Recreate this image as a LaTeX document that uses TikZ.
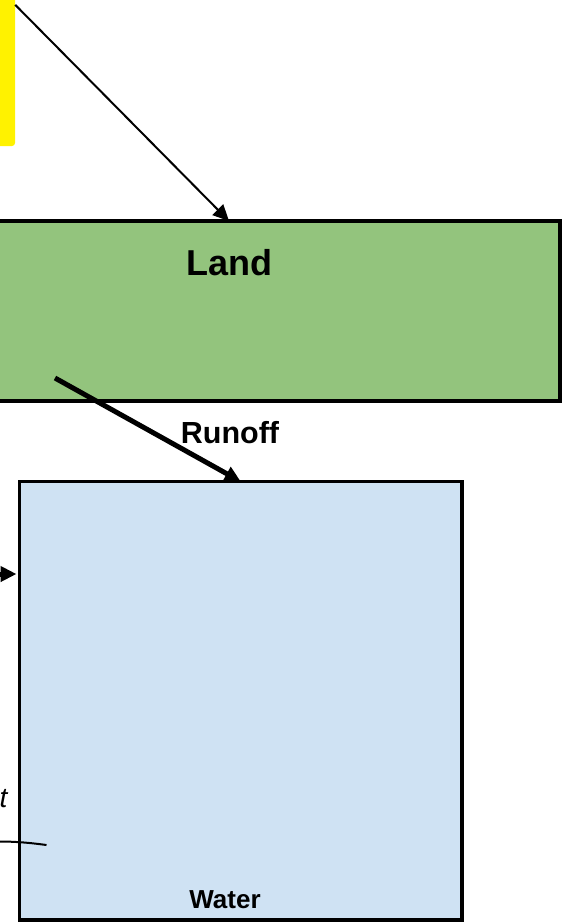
\documentclass[tikz,border=0pt]{standalone}
\usepackage{fontspec}
\setmainfont{Liberation Sans}
\usetikzlibrary{arrows.meta}
\definecolor{landgreen}{RGB}{147,196,125}
\definecolor{waterblue}{RGB}{207,226,243}
\tikzstyle{compartment}=[draw, line width=3.5pt, inner sep=0, outer sep=0]
\tikzstyle{landbox}=[compartment, fill=landgreen, minimum width=580pt, minimum height=180pt]
\tikzstyle{waterbox}=[compartment, fill=waterblue, minimum width=442.5pt, minimum height=438.5pt]
\tikzstyle{sourcebox}=[fill=yellow, rounded corners=3pt, inner sep=0, minimum width=20pt, minimum height=151pt]
\tikzstyle{boxlabel}=[inner sep=0, anchor=base]
\tikzstyle{flow}=[-{Triangle[length=16pt,width=15pt]}]
\tikzstyle{thinflow}=[flow, line width=2pt]
\tikzstyle{thickflow}=[flow, line width=5pt]

\begin{document}
\begin{tikzpicture}[x=1pt, y=-1pt]
        \useasboundingbox (0,0) rectangle (570,922);
        % compartments
        \node[sourcebox] (source) at (5, 70.5) {};
        \node[landbox] (land) at (270, 311) {};
        \node[waterbox] (water) at (240.75, 700.75) {};
        \node[boxlabel, font=\bfseries\fontsize{36}{40}\selectfont] (landlabel) at (229, 275.7) {Land};
        \node[boxlabel, font=\bfseries\fontsize{30.5}{34}\selectfont] (runofflabel) at (230, 443.3) {Runoff};
        \node[boxlabel, font=\bfseries\fontsize{26}{30}\selectfont] (waterlabel) at (225, 908) {Water};
        \node[inner sep=0, anchor=base east, font=\itshape\fontsize{28}{30}\selectfont] (cutlabel) at (7.5, 807.5) {t};
        % flows
        \coordinate (runoffsrc) at (55, 378);
        \coordinate (inflowsrc) at (-40, 574);
        \coordinate (edgeleft) at (-10, 841.5);
        \coordinate (edgeright) at (46.5, 845);
        \draw[thinflow] ([yshift=-10pt]source.north east) -- (land.north -| landlabel);
        \draw[thickflow] (runoffsrc) -- (water.north);
        \draw[thickflow, shorten >=3pt] (inflowsrc) -- (inflowsrc -| water.west);
        \draw[line width=2pt] (edgeleft) to[bend left=4] (edgeright);
    \end{tikzpicture}
\end{document}
